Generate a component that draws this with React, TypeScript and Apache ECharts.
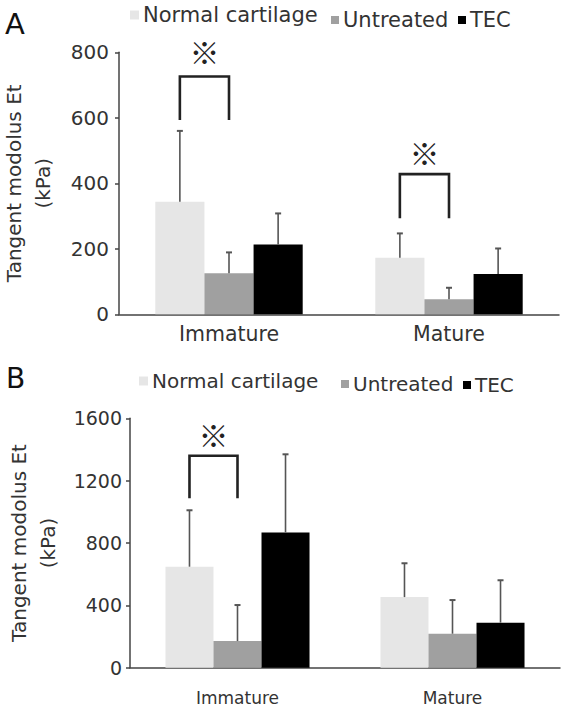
import React, { useEffect, useRef } from 'react';
import * as echarts from 'echarts';

// ---------- data ----------
const categories = ['Immature', 'Mature'];
const seriesNames = ['Normal cartilage', 'Untreated', 'TEC'];
const seriesColors = ['#e6e6e6', '#a0a0a0', '#000000'];

// Panel A (kPa)
const aNormal = [344, 173];
const aUntreated = [125, 46];
const aTec = [213, 123];
const aNormalUpper = [560, 247];
const aUntreatedUpper = [189, 81];
const aTecUpper = [308, 201];
const aTicks = { min: 0, max: 800, interval: 200 };
// [category, left series, right series, bracket top, leg bottom, mark level]
const aBrackets = [
  [0, 0, 1, 726, 593, 804],
  [1, 0, 1, 428, 293, 496],
];

// Panel B (kPa)
const bNormal = [648, 453];
const bUntreated = [171, 218];
const bTec = [868, 289];
const bNormalUpper = [1010, 670];
const bUntreatedUpper = [402, 434];
const bTecUpper = [1369, 561];
const bTicks = { min: 0, max: 1600, interval: 400 };
const bBrackets = [[0, 0, 1, 1360, 1087, 1499]];

const yName = 'Tangent modolus Et\n(kPa)';
const sigMark = '※';

// ---------- helpers ----------
const FONT = 'DejaVu Sans';
const GAP = 0.33;
const TXT = '#333';
const AXIS = '#444';

function errData(means: number[][], uppers: number[][]) {
  const out: number[][] = [];
  means.forEach((m, s) => {
    m.forEach((v, c) => out.push([c, s, v, uppers[s][c]]));
  });
  return out;
}

const errRender = (_p: any, api: any) => {
  const cat = api.value(0);
  const s = api.value(1);
  const mean = api.value(2);
  const up = api.value(3);
  const band = api.size([1, 0])[0];
  const bw = (band * (1 - GAP)) / 3;
  const base = api.coord([cat, mean]);
  const top = api.coord([cat, up]);
  const x = base[0] + (s - 1) * bw;
  return {
    type: 'group',
    children: [
      { type: 'line', shape: { x1: x, y1: base[1], x2: x, y2: top[1] }, style: { stroke: '#555', lineWidth: 1.6 } },
      { type: 'line', shape: { x1: x - 3, y1: top[1], x2: x + 3, y2: top[1] }, style: { stroke: '#555', lineWidth: 2 } },
    ],
  };
};

const bracketRender = (_p: any, api: any) => {
  const cat = api.value(0);
  const l = api.value(1);
  const r = api.value(2);
  const top = api.value(3);
  const leg = api.value(4);
  const mark = api.value(5);
  const band = api.size([1, 0])[0];
  const bw = (band * (1 - GAP)) / 3;
  const ct = api.coord([cat, top]);
  const cl = api.coord([cat, leg]);
  const cm = api.coord([cat, mark]);
  const xl = ct[0] + (l - 1) * bw;
  const xr = ct[0] + (r - 1) * bw;
  return {
    type: 'group',
    children: [
      {
        type: 'polyline',
        shape: { points: [[xl, cl[1]], [xl, ct[1]], [xr, ct[1]], [xr, cl[1]]] },
        style: { stroke: '#222', lineWidth: 2.6, fill: null },
      },
      {
        type: 'text',
        x: (xl + xr) / 2,
        y: cm[1],
        style: {
          text: sigMark,
          fontSize: 30,
          fontWeight: 'bold',
          fontFamily: 'Noto Sans CJK JP',
          fill: '#222',
          align: 'center',
          verticalAlign: 'middle',
        },
      },
    ],
  };
};

function legendItem(name: string, left: number, top: number, size: number, fontSize: number) {
  return {
    data: [name],
    left,
    top,
    padding: 0,
    icon: 'rect',
    itemWidth: size,
    itemHeight: size,
    selectedMode: false,
    textStyle: { fontFamily: FONT, fontSize, color: TXT, lineHeight: 24, padding: [0, 0, 0, -1] },
  };
}

function yAxisOf(gridIndex: number, t: { min: number; max: number; interval: number }, fontSize: number, margin: number) {
  return {
    type: 'value',
    gridIndex,
    min: t.min,
    max: t.max,
    interval: t.interval,
    name: yName,
    nameLocation: 'middle',
    nameGap: 62,
    nameTextStyle: { fontFamily: FONT, fontSize: 20, lineHeight: 29, color: TXT, align: 'center' },
    axisLine: { show: true, lineStyle: { color: AXIS, width: 1.5 } },
    axisTick: { show: true, length: 4, lineStyle: { color: AXIS, width: 1.5 } },
    splitLine: { show: false },
    axisLabel: { fontFamily: FONT, fontSize, color: TXT, margin, formatter: (v: number) => String(v) },
  };
}

function xAxisOf(gridIndex: number, fontSize: number, margin: number) {
  return {
    type: 'category',
    gridIndex,
    data: categories,
    axisLine: { show: true, lineStyle: { color: AXIS, width: 1.5 } },
    axisTick: { show: false },
    axisLabel: { fontFamily: FONT, fontSize, color: TXT, margin },
  };
}

function barSeries(idx: number, values: number[], gridIdx: number) {
  return {
    type: 'bar',
    name: seriesNames[idx],
    xAxisIndex: gridIdx,
    yAxisIndex: gridIdx,
    data: values,
    barGap: '0%',
    barCategoryGap: `${GAP * 100}%`,
    itemStyle: { color: seriesColors[idx] },
  };
}

export default function App() {
  const ref = useRef<HTMLDivElement>(null);
  useEffect(() => {
    const chart = echarts.init(ref.current!, null, { renderer: 'svg' });
    const option: any = {
      animation: false,
      backgroundColor: '#ffffff',
      color: seriesColors,
      textStyle: { fontFamily: FONT },
      grid: [
        { left: 119, top: 52.3, width: 440, height: 262, containLabel: false, outerBoundsMode: 'none' },
        { left: 130, top: 418.3, width: 430, height: 249.4, containLabel: false, outerBoundsMode: 'none' },
      ],
      legend: [
        legendItem(seriesNames[0], 130, 3, 9, 21),
        legendItem(seriesNames[1], 331, 8, 8, 21),
        legendItem(seriesNames[2], 458, 8, 8, 21),
        legendItem(seriesNames[0], 139, 369, 9, 20),
        legendItem(seriesNames[1], 341, 372, 8, 20),
        legendItem(seriesNames[2], 463, 373, 8, 20),
      ],
      xAxis: [xAxisOf(0, 20.5, 9), xAxisOf(1, 17, 22)],
      yAxis: [yAxisOf(0, aTicks, 20, 10), yAxisOf(1, bTicks, 19, 8)],
      graphic: [
        { type: 'text', left: 5, top: 9, style: { text: 'A', fontFamily: FONT, fontSize: 29, fill: '#111' } },
        { type: 'text', left: 6, top: 364, style: { text: 'B', fontFamily: FONT, fontSize: 28, fill: '#111' } },
      ],
      series: [
        barSeries(0, aNormal, 0),
        barSeries(1, aUntreated, 0),
        barSeries(2, aTec, 0),
        barSeries(0, bNormal, 1),
        barSeries(1, bUntreated, 1),
        barSeries(2, bTec, 1),
        {
          type: 'custom',
          xAxisIndex: 0,
          yAxisIndex: 0,
          renderItem: errRender,
          encode: { x: 0, y: [2, 3] },
          data: errData([aNormal, aUntreated, aTec], [aNormalUpper, aUntreatedUpper, aTecUpper]),
          clip: false,
          z: 5,
        },
        {
          type: 'custom',
          xAxisIndex: 1,
          yAxisIndex: 1,
          renderItem: errRender,
          encode: { x: 0, y: [2, 3] },
          data: errData([bNormal, bUntreated, bTec], [bNormalUpper, bUntreatedUpper, bTecUpper]),
          clip: false,
          z: 5,
        },
        {
          type: 'custom',
          xAxisIndex: 0,
          yAxisIndex: 0,
          renderItem: bracketRender,
          encode: { x: 0, y: [3, 4] },
          data: aBrackets,
          clip: false,
          z: 6,
        },
        {
          type: 'custom',
          xAxisIndex: 1,
          yAxisIndex: 1,
          renderItem: bracketRender,
          encode: { x: 0, y: [3, 4] },
          data: bBrackets,
          clip: false,
          z: 6,
        },
      ],
    };
    chart.setOption(option);
    return () => chart.dispose();
  }, []);
  return (
    <div
      ref={ref}
      style={{ position: 'absolute', left: 0, top: 0, width: 567, height: 709, background: '#fff' }}
    />
  );
}
